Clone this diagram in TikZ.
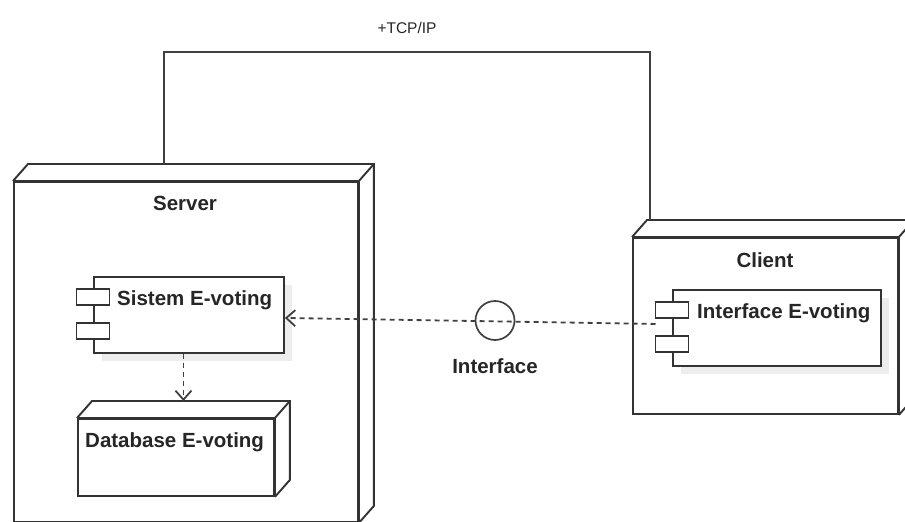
\documentclass[tikz,border=0pt]{standalone}
\usepackage{fontspec}
\setmainfont{Liberation Sans}
\usetikzlibrary{positioning,calc,arrows.meta,shadows}

\tikzset{
	nodeline/.style={line width=1.9pt, draw=black!80},
	frontline/.style={line width=2.8pt, draw=black!80},
	nodebox/.style={draw=black!80, line width=1.9pt, fill=white, inner sep=0pt, anchor=north west},
	compbox/.style={nodebox, drop shadow={fill=black, opacity=0.07, shadow xshift=8pt, shadow yshift=-8pt}},
	iconbox/.style={draw=black!80, line width=1.7pt, fill=white, minimum width=33pt, minimum height=16pt, inner sep=0pt},
	title/.style={font=\bfseries\fontsize{20.5}{24}\selectfont, text=black!85, inner sep=0pt},
	link/.style={line width=1.8pt, draw=black!75},
	dep/.style={link, dash pattern=on 5pt off 4pt, -{Straight Barb[length=9pt,width=16pt]}},
}

% back edges of a 3d node
\newcommand{\nodedepth}[1]{%
	\draw[nodeline] (#1.north west) -- ++(15,-17) -- ($(#1.north east)+(15,-17)$) -- ($(#1.south east)+(15,-17)$) -- (#1.south east);
	\draw[nodeline] (#1.north east) -- ++(15,-17);
	\draw[frontline] (#1.north west) -- (#1.north east) -- (#1.south east);
}
% the two small boxes of a component
\newcommand{\compicons}[1]{%
	\node[iconbox] (#1-a) at ($(#1.north west)+(0,21)$) {};
	\node[iconbox] (#1-b) at ($(#1.north west)+(0,55)$) {};
}

\begin{document}
\begin{tikzpicture}[x=1pt,y=-1pt]
	\useasboundingbox (0,0) rectangle (905,522);

	% nodes
	\node[nodebox, minimum width=344pt, minimum height=340pt] (server) at (13,181) {};
	\nodedepth{server}
	\node[title, anchor=base] (servertitle) at (185,210) {Server};

	\node[nodebox, minimum width=265pt, minimum height=176pt] (client) at (632,237) {};
	\nodedepth{client}
	\node[title, anchor=base] (clienttitle) at (765,267) {Client};

	\node[nodebox, minimum width=196pt, minimum height=77pt] (database) at (77,418) {};
	\nodedepth{database}
	\node[title, anchor=base west] (dbtitle) at (85,447) {Database E-voting};

	% components
	\node[compbox, minimum width=190pt, minimum height=76pt] (sistem) at (93,276) {};
	\compicons{sistem}
	\node[title, anchor=base west] (sistemtitle) at (117,305) {Sistem E-voting};

	\node[compbox, minimum width=208pt, minimum height=76pt] (ifcomp) at (672,289) {};
	\compicons{ifcomp}
	\node[title, anchor=base west] (ifcomptitle) at (697,318) {Interface E-voting};

	% connectors
	\coordinate (srvtop) at ($(server.north west)+(151,-17)$);
	\coordinate (clitop) at ($(client.north west)+(18,-17)$);
	\draw[link] (srvtop) -- ++(0,-112) -| (clitop);
	\node[anchor=base, font=\fontsize{15.5}{18}\selectfont, text=black!85] (tcp) at (407,33) {+TCP/IP};

	\coordinate (ifport) at ($(ifcomp.west)+(-16.5,-4)$);
	\draw[dep] (ifport) -- ($(sistem.east)+(0,3)$);
	\node[draw=black!75, line width=1.7pt, circle, minimum size=39pt, inner sep=0pt] (iface) at (495,320.5) {};
	\node[title, anchor=base] (ifacetitle) at (495,373) {Interface};

	\coordinate (dbtop) at ($(database.north)+(7.5,-17)$);
	\draw[dep] (sistem.south -| dbtop) -- (dbtop);
\end{tikzpicture}
\end{document}
